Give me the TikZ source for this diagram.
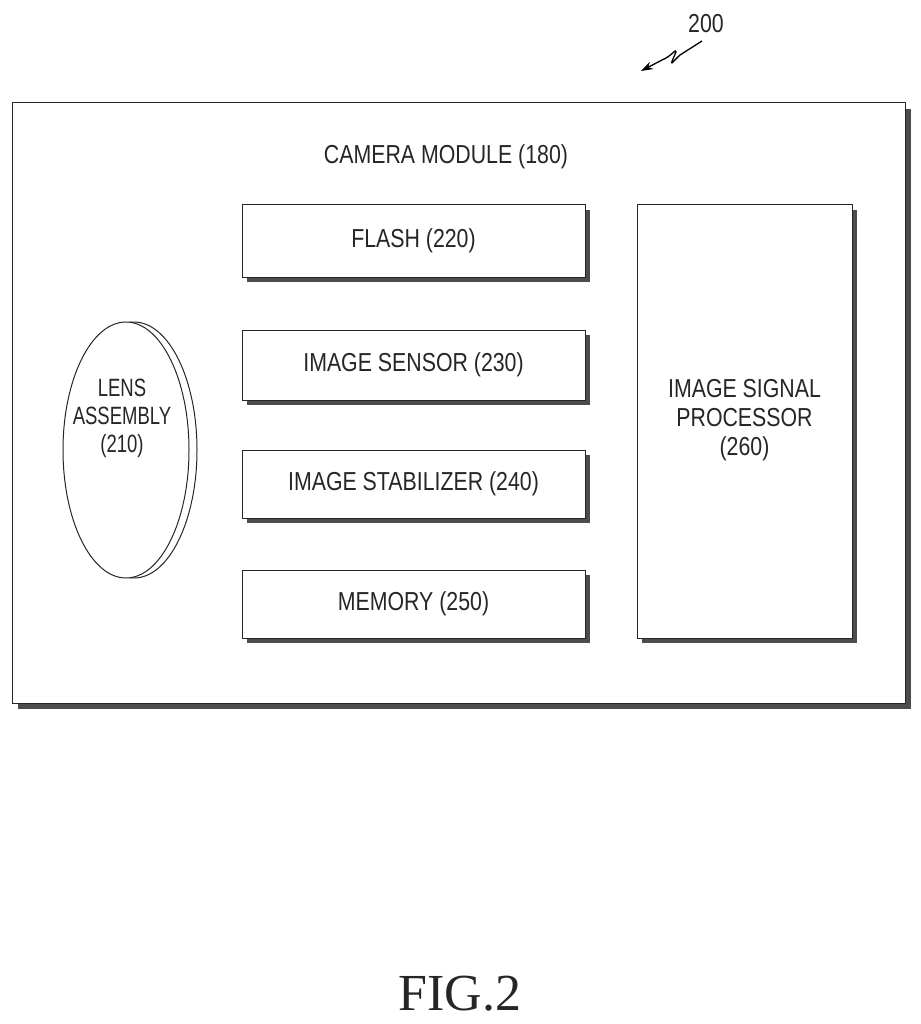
\documentclass[tikz,border=0pt]{standalone}
\usepackage{fontspec}
\setmainfont{Liberation Serif}
\newfontfamily\lab[FakeStretch=0.82]{Liberation Sans}
\newfontfamily\labn[FakeStretch=0.74]{Liberation Sans}
\usetikzlibrary{arrows.meta}
\begin{document}
\begin{tikzpicture}[x=1pt,y=-1pt,
  box/.style={draw=black!85,line width=1pt,fill=white},
  shad/.style={fill=black!70,draw=none},
  txt/.style={font=\lab\fontsize{26}{29}\selectfont,align=center,text=black!85}]
\useasboundingbox (0,0) rectangle (920,1024);
% outer
\fill[shad] (18,109) rectangle (911,709);
\draw[box] (12,103) rectangle (905,703);
\node[txt] (cm) at (446,157) {CAMERA MODULE (180)};
% blocks
\foreach \n/\ya/\yb/\t in {fl/205/277/{FLASH (220)},is/330/400/{IMAGE SENSOR (230)},st/450/518/{IMAGE STABILIZER (240)},me/570/638/{MEMORY (250)}}{
  \fill[shad] (247,\ya+5) rectangle (590,\yb+5);
  \draw[box] (242,\ya) rectangle (585,\yb);
  \node[txt] (\n) at (413.5,{(\ya+\yb)/2}) {\t};
}
\fill[shad] (642,210) rectangle (857,643);
\draw[box] (637,205) rectangle (852,638);
\node[txt] (isp) at (744.5,420) {IMAGE SIGNAL\\PROCESSOR\\(260)};
% lens
\draw[box] (134,450) ellipse (63 and 128);
\draw[box] (126,450) ellipse (63 and 128);
\node[txt,font=\labn\fontsize{25}{28}\selectfont] (lens) at (122,418) {LENS\\ASSEMBLY\\(210)};
% 200
\node[font=\lab\fontsize{26}{29}\selectfont,text=black!85] (ref) at (706,24) {200};
\coordinate (rs) at (702,41);
\draw[line width=1.3pt,-{Stealth[length=12pt,width=8pt]}] (rs) -- (680,55) .. controls (672,62) and (668,70) .. (676,52) .. controls (676,48) and (672,56) .. (662,60) -- (641,71);
\node[font=\fontsize{52}{56}\selectfont,text=black!85] (fig) at (460,994) {FIG.2};
\end{tikzpicture}
\end{document}
